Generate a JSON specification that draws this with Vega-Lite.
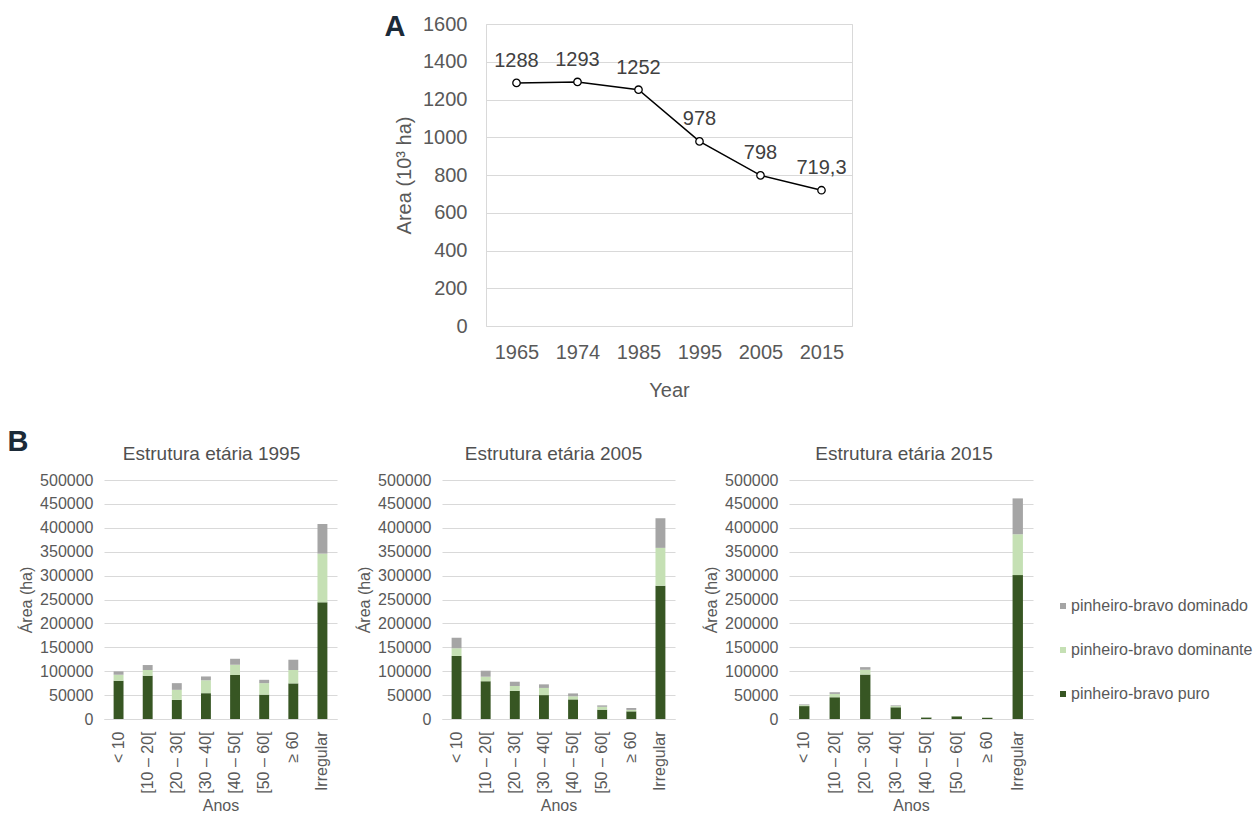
{
  "$schema": "https://vega.github.io/schema/vega-lite/v6.json",
  "background": "white",
  "padding": {"left": 7, "top": 12, "right": 5, "bottom": 0},
  "config": {
    "font": "Liberation Sans",
    "view": {"stroke": null},
    "axis": {"labelColor": "#595959", "titleColor": "#595959", "titleFontWeight": "normal", "gridColor": "#d9d9d9", "domainColor": "#d9d9d9", "ticks": false},
    "title": {"color": "#505050", "fontWeight": "normal"}
  },
  "datasets": {
    "area": [
      {"year": "1965", "area": 1288, "label": "1288"},
      {"year": "1974", "area": 1293, "label": "1293"},
      {"year": "1985", "area": 1252, "label": "1252"},
      {"year": "1995", "area": 978, "label": "978"},
      {"year": "2005", "area": 798, "label": "798"},
      {"year": "2015", "area": 719.3, "label": "719,3"}
    ],
    "estrutura": [
      {"ano": 1995, "classe": "< 10", "tipo": "pinheiro-bravo puro", "area": 80000},
      {"ano": 1995, "classe": "< 10", "tipo": "pinheiro-bravo dominante", "area": 12600},
      {"ano": 1995, "classe": "< 10", "tipo": "pinheiro-bravo dominado", "area": 7000},
      {"ano": 1995, "classe": "[10 – 20[", "tipo": "pinheiro-bravo puro", "area": 90500},
      {"ano": 1995, "classe": "[10 – 20[", "tipo": "pinheiro-bravo dominante", "area": 12000},
      {"ano": 1995, "classe": "[10 – 20[", "tipo": "pinheiro-bravo dominado", "area": 10400},
      {"ano": 1995, "classe": "[20 – 30[", "tipo": "pinheiro-bravo puro", "area": 40000},
      {"ano": 1995, "classe": "[20 – 30[", "tipo": "pinheiro-bravo dominante", "area": 21000},
      {"ano": 1995, "classe": "[20 – 30[", "tipo": "pinheiro-bravo dominado", "area": 14000},
      {"ano": 1995, "classe": "[30 – 40[", "tipo": "pinheiro-bravo puro", "area": 54000},
      {"ano": 1995, "classe": "[30 – 40[", "tipo": "pinheiro-bravo dominante", "area": 27000},
      {"ano": 1995, "classe": "[30 – 40[", "tipo": "pinheiro-bravo dominado", "area": 8000},
      {"ano": 1995, "classe": "[40 – 50[", "tipo": "pinheiro-bravo puro", "area": 92000},
      {"ano": 1995, "classe": "[40 – 50[", "tipo": "pinheiro-bravo dominante", "area": 21500},
      {"ano": 1995, "classe": "[40 – 50[", "tipo": "pinheiro-bravo dominado", "area": 12500},
      {"ano": 1995, "classe": "[50 – 60[", "tipo": "pinheiro-bravo puro", "area": 51000},
      {"ano": 1995, "classe": "[50 – 60[", "tipo": "pinheiro-bravo dominante", "area": 24000},
      {"ano": 1995, "classe": "[50 – 60[", "tipo": "pinheiro-bravo dominado", "area": 7000},
      {"ano": 1995, "classe": "≥ 60", "tipo": "pinheiro-bravo puro", "area": 74500},
      {"ano": 1995, "classe": "≥ 60", "tipo": "pinheiro-bravo dominante", "area": 28000},
      {"ano": 1995, "classe": "≥ 60", "tipo": "pinheiro-bravo dominado", "area": 21500},
      {"ano": 1995, "classe": "Irregular", "tipo": "pinheiro-bravo puro", "area": 244000},
      {"ano": 1995, "classe": "Irregular", "tipo": "pinheiro-bravo dominante", "area": 102000},
      {"ano": 1995, "classe": "Irregular", "tipo": "pinheiro-bravo dominado", "area": 62000},
      {"ano": 2005, "classe": "< 10", "tipo": "pinheiro-bravo puro", "area": 132000},
      {"ano": 2005, "classe": "< 10", "tipo": "pinheiro-bravo dominante", "area": 16000},
      {"ano": 2005, "classe": "< 10", "tipo": "pinheiro-bravo dominado", "area": 22000},
      {"ano": 2005, "classe": "[10 – 20[", "tipo": "pinheiro-bravo puro", "area": 79000},
      {"ano": 2005, "classe": "[10 – 20[", "tipo": "pinheiro-bravo dominante", "area": 9500},
      {"ano": 2005, "classe": "[10 – 20[", "tipo": "pinheiro-bravo dominado", "area": 12500},
      {"ano": 2005, "classe": "[20 – 30[", "tipo": "pinheiro-bravo puro", "area": 59000},
      {"ano": 2005, "classe": "[20 – 30[", "tipo": "pinheiro-bravo dominante", "area": 10000},
      {"ano": 2005, "classe": "[20 – 30[", "tipo": "pinheiro-bravo dominado", "area": 9000},
      {"ano": 2005, "classe": "[30 – 40[", "tipo": "pinheiro-bravo puro", "area": 50000},
      {"ano": 2005, "classe": "[30 – 40[", "tipo": "pinheiro-bravo dominante", "area": 15000},
      {"ano": 2005, "classe": "[30 – 40[", "tipo": "pinheiro-bravo dominado", "area": 7500},
      {"ano": 2005, "classe": "[40 – 50[", "tipo": "pinheiro-bravo puro", "area": 41000},
      {"ano": 2005, "classe": "[40 – 50[", "tipo": "pinheiro-bravo dominante", "area": 6500},
      {"ano": 2005, "classe": "[40 – 50[", "tipo": "pinheiro-bravo dominado", "area": 6000},
      {"ano": 2005, "classe": "[50 – 60[", "tipo": "pinheiro-bravo puro", "area": 19500},
      {"ano": 2005, "classe": "[50 – 60[", "tipo": "pinheiro-bravo dominante", "area": 6000},
      {"ano": 2005, "classe": "[50 – 60[", "tipo": "pinheiro-bravo dominado", "area": 3000},
      {"ano": 2005, "classe": "≥ 60", "tipo": "pinheiro-bravo puro", "area": 16000},
      {"ano": 2005, "classe": "≥ 60", "tipo": "pinheiro-bravo dominante", "area": 3000},
      {"ano": 2005, "classe": "≥ 60", "tipo": "pinheiro-bravo dominado", "area": 4000},
      {"ano": 2005, "classe": "Irregular", "tipo": "pinheiro-bravo puro", "area": 279000},
      {"ano": 2005, "classe": "Irregular", "tipo": "pinheiro-bravo dominante", "area": 79000},
      {"ano": 2005, "classe": "Irregular", "tipo": "pinheiro-bravo dominado", "area": 62000},
      {"ano": 2015, "classe": "< 10", "tipo": "pinheiro-bravo puro", "area": 27000},
      {"ano": 2015, "classe": "< 10", "tipo": "pinheiro-bravo dominante", "area": 2000},
      {"ano": 2015, "classe": "< 10", "tipo": "pinheiro-bravo dominado", "area": 1500},
      {"ano": 2015, "classe": "[10 – 20[", "tipo": "pinheiro-bravo puro", "area": 45500},
      {"ano": 2015, "classe": "[10 – 20[", "tipo": "pinheiro-bravo dominante", "area": 7000},
      {"ano": 2015, "classe": "[10 – 20[", "tipo": "pinheiro-bravo dominado", "area": 3500},
      {"ano": 2015, "classe": "[20 – 30[", "tipo": "pinheiro-bravo puro", "area": 93000},
      {"ano": 2015, "classe": "[20 – 30[", "tipo": "pinheiro-bravo dominante", "area": 10000},
      {"ano": 2015, "classe": "[20 – 30[", "tipo": "pinheiro-bravo dominado", "area": 5500},
      {"ano": 2015, "classe": "[30 – 40[", "tipo": "pinheiro-bravo puro", "area": 24500},
      {"ano": 2015, "classe": "[30 – 40[", "tipo": "pinheiro-bravo dominante", "area": 2500},
      {"ano": 2015, "classe": "[30 – 40[", "tipo": "pinheiro-bravo dominado", "area": 1500},
      {"ano": 2015, "classe": "[40 – 50[", "tipo": "pinheiro-bravo puro", "area": 3000},
      {"ano": 2015, "classe": "[40 – 50[", "tipo": "pinheiro-bravo dominante", "area": 500},
      {"ano": 2015, "classe": "[40 – 50[", "tipo": "pinheiro-bravo dominado", "area": 500},
      {"ano": 2015, "classe": "[50 – 60[", "tipo": "pinheiro-bravo puro", "area": 5500},
      {"ano": 2015, "classe": "[50 – 60[", "tipo": "pinheiro-bravo dominante", "area": 500},
      {"ano": 2015, "classe": "[50 – 60[", "tipo": "pinheiro-bravo dominado", "area": 300},
      {"ano": 2015, "classe": "≥ 60", "tipo": "pinheiro-bravo puro", "area": 2500},
      {"ano": 2015, "classe": "≥ 60", "tipo": "pinheiro-bravo dominante", "area": 300},
      {"ano": 2015, "classe": "≥ 60", "tipo": "pinheiro-bravo dominado", "area": 200},
      {"ano": 2015, "classe": "Irregular", "tipo": "pinheiro-bravo puro", "area": 301000},
      {"ano": 2015, "classe": "Irregular", "tipo": "pinheiro-bravo dominante", "area": 85500},
      {"ano": 2015, "classe": "Irregular", "tipo": "pinheiro-bravo dominado", "area": 75000}
    ]
  },
  "spacing": 27,
  "vconcat": [
    {
      "spacing": 0,
      "hconcat": [
        {
          "width": 280,
          "height": 10,
          "data": {"values": [{}]},
          "mark": {"type": "text", "text": ""},
          "encoding": {}
        },
        {
          "width": 366,
          "height": 302,
          "data": {"name": "area"},
          "title": {"text": "A", "anchor": "start", "frame": "bounds", "fontSize": 29, "fontWeight": "bold", "color": "#1b2a38", "baseline": "top", "offset": 0, "dx": -10, "dy": 28},
          "view": {"stroke": "#d9d9d9"},
          "encoding": {
            "x": {"field": "year", "type": "ordinal", "axis": {"title": "Year", "labelAngle": 0, "labelFontSize": 20, "labelPadding": 16, "titleFontSize": 20, "titlePadding": 18, "domain": false, "grid": false, "labelColor": "#595959"}},
            "y": {"field": "area", "type": "quantitative", "scale": {"domain": [0, 1600]}, "axis": {"title": "Area (10³ ha)", "format": "d", "values": [0, 200, 400, 600, 800, 1000, 1200, 1400, 1600], "labelFontSize": 20, "labelPadding": 19, "titleFontSize": 20, "titlePadding": 8, "domain": false, "grid": true}}
          },
          "layer": [
            {"mark": {"type": "line", "color": "black", "strokeWidth": 1.5}},
            {"mark": {"type": "point", "filled": true, "fill": "white", "stroke": "black", "strokeWidth": 1.3, "size": 55, "opacity": 1}},
            {"mark": {"type": "text", "dy": -22, "fontSize": 20, "color": "#404040"}, "encoding": {"text": {"field": "label"}}}
          ]
        }
      ]
    },
    {
      "spacing": 19,
      "title": {"text": "B", "anchor": "start", "frame": "bounds", "fontSize": 29, "fontWeight": "bold", "color": "#1b2a38", "baseline": "top", "offset": 0, "dx": -11, "dy": 12},
      "resolve": {"scale": {"x": "independent", "y": "independent"}, "legend": {"color": "independent"}},
      "hconcat": [
        {
          "width": 233,
          "height": 239,
          "data": {"name": "estrutura"},
          "transform": [{"filter": "datum.ano == 1995"}],
          "title": {"text": "Estrutura etária 1995", "fontSize": 19, "offset": 8, "dx": -9},
          "mark": {"type": "bar"},
          "encoding": {
            "x": {"field": "classe", "type": "nominal", "sort": ["< 10", "[10 – 20[", "[20 – 30[", "[30 – 40[", "[40 – 50[", "[50 – 60[", "≥ 60", "Irregular"], "scale": {"paddingInner": 0.66, "paddingOuter": 0.33}, "axis": {"title": "Anos", "labelAngle": -90, "labelFontSize": 16, "labelPadding": 12, "titleFontSize": 16, "titlePadding": 4, "domain": true}},
            "y": {"field": "area", "type": "quantitative", "stack": "zero", "scale": {"domain": [0, 500000]}, "axis": {"title": "Área (ha)", "format": "d", "values": [0, 50000, 100000, 150000, 200000, 250000, 300000, 350000, 400000, 450000, 500000], "labelFontSize": 16, "labelPadding": 11, "titleFontSize": 16, "titlePadding": 5, "domain": false, "grid": true}},
            "color": {"field": "tipo", "type": "nominal", "scale": {"domain": ["pinheiro-bravo dominado", "pinheiro-bravo dominante", "pinheiro-bravo puro"], "range": ["#a5a5a5", "#c5e0b4", "#375623"]}, "legend": null},
            "order": {"field": "tipo", "sort": "descending"}
          }
        },
        {
          "spacing": 28,
          "resolve": {"scale": {"x": "independent", "y": "independent"}, "legend": {"color": "independent"}},
          "hconcat": [
            {
              "width": 233,
              "height": 239,
              "data": {"name": "estrutura"},
              "transform": [{"filter": "datum.ano == 2005"}],
              "title": {"text": "Estrutura etária 2005", "fontSize": 19, "offset": 8, "dx": -5},
              "mark": {"type": "bar"},
              "encoding": {
                "x": {"field": "classe", "type": "nominal", "sort": ["< 10", "[10 – 20[", "[20 – 30[", "[30 – 40[", "[40 – 50[", "[50 – 60[", "≥ 60", "Irregular"], "scale": {"paddingInner": 0.66, "paddingOuter": 0.33}, "axis": {"title": "Anos", "labelAngle": -90, "labelFontSize": 16, "labelPadding": 12, "titleFontSize": 16, "titlePadding": 4, "domain": true}},
                "y": {"field": "area", "type": "quantitative", "stack": "zero", "scale": {"domain": [0, 500000]}, "axis": {"title": "Área (ha)", "format": "d", "values": [0, 50000, 100000, 150000, 200000, 250000, 300000, 350000, 400000, 450000, 500000], "labelFontSize": 16, "labelPadding": 11, "titleFontSize": 16, "titlePadding": 5, "domain": false, "grid": true}},
                "color": {"field": "tipo", "type": "nominal", "scale": {"domain": ["pinheiro-bravo dominado", "pinheiro-bravo dominante", "pinheiro-bravo puro"], "range": ["#a5a5a5", "#c5e0b4", "#375623"]}, "legend": null},
                "order": {"field": "tipo", "sort": "descending"}
              }
            },
            {
              "width": 244,
              "height": 239,
              "data": {"name": "estrutura"},
              "transform": [{"filter": "datum.ano == 2015"}],
              "title": {"text": "Estrutura etária 2015", "fontSize": 19, "offset": 8, "dx": -7},
              "mark": {"type": "bar"},
              "encoding": {
                "x": {"field": "classe", "type": "nominal", "sort": ["< 10", "[10 – 20[", "[20 – 30[", "[30 – 40[", "[40 – 50[", "[50 – 60[", "≥ 60", "Irregular"], "scale": {"paddingInner": 0.66, "paddingOuter": 0.33}, "axis": {"title": "Anos", "labelAngle": -90, "labelFontSize": 16, "labelPadding": 12, "titleFontSize": 16, "titlePadding": 4, "domain": true}},
                "y": {"field": "area", "type": "quantitative", "stack": "zero", "scale": {"domain": [0, 500000]}, "axis": {"title": "Área (ha)", "format": "d", "values": [0, 50000, 100000, 150000, 200000, 250000, 300000, 350000, 400000, 450000, 500000], "labelFontSize": 16, "labelPadding": 11, "titleFontSize": 16, "titlePadding": 5, "domain": false, "grid": true}},
                "color": {"field": "tipo", "type": "nominal", "scale": {"domain": ["pinheiro-bravo dominado", "pinheiro-bravo dominante", "pinheiro-bravo puro"], "range": ["#a5a5a5", "#c5e0b4", "#375623"]}, "legend": {"orient": "none", "legendX": 266, "legendY": 118, "title": null, "symbolType": "square", "symbolSize": 36, "symbolStrokeWidth": 0, "labelFontSize": 16, "labelColor": "#595959", "labelOffset": 0, "labelLimit": 300, "rowPadding": 28, "padding": 0}},
                "order": {"field": "tipo", "sort": "descending"}
              }
            }
          ]
        }
      ]
    }
  ]
}
